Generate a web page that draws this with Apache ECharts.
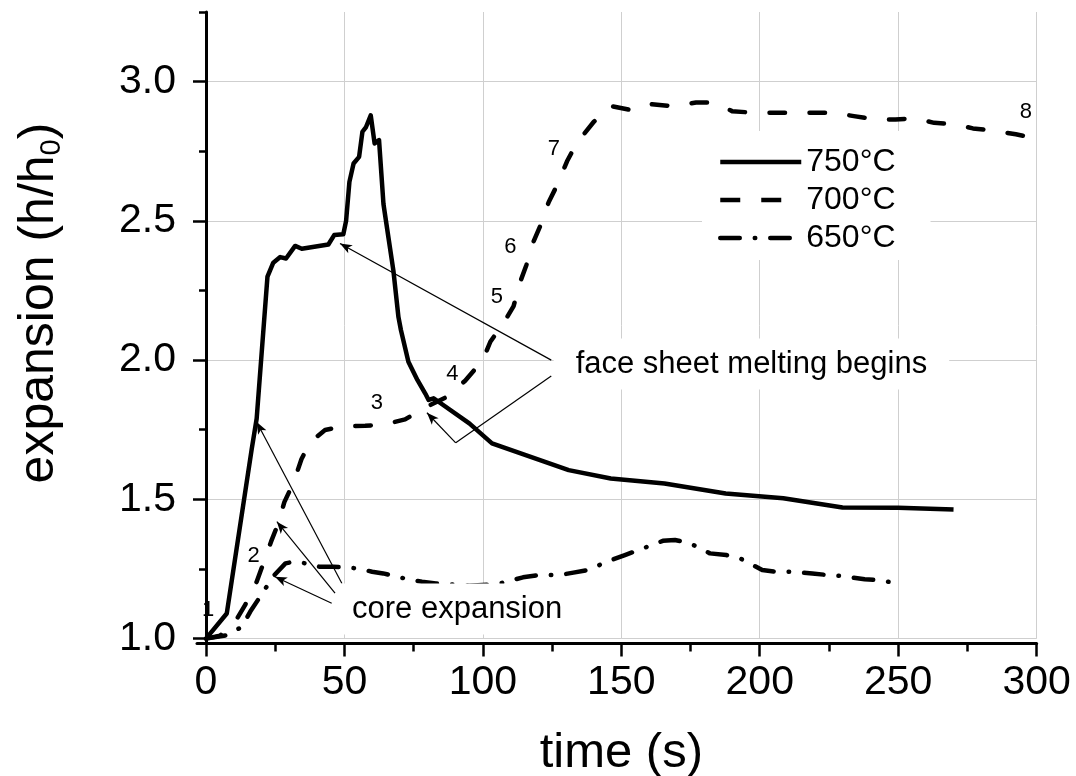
<!DOCTYPE html>
<html>
<head>
<meta charset="utf-8">
<script src="https://cdn.jsdelivr.net/npm/echarts@6/dist/echarts.min.js"></script>
<style>
  html, body { margin: 0; padding: 0; background: #fff; }
  #chart { width: 1076px; height: 776px; }
</style>
</head>
<body>
<div id="chart"></div>
<script>
// expansion h/h0 against time (s)
const time750 = [0, 7.5, 16.5, 18.3, 22.2, 24.3, 26.8, 28.9, 32.2, 34.6, 44.2, 46.3, 49.6, 50.6, 51.8, 53.3, 55.3, 56.5, 57.8, 59.5, 60.9, 62.5, 64.1, 65.9, 67.7, 69.5, 70.4, 73.1, 76.4, 79.2, 80.4, 82.2, 95.1, 103.3, 131, 146.2, 165.6, 187.7, 208.5, 229.9, 250, 270];
const exp750 = [1.0, 1.09, 1.68, 1.79, 2.30, 2.35, 2.37, 2.365, 2.41, 2.40, 2.415, 2.449, 2.452, 2.50, 2.64, 2.706, 2.73, 2.82, 2.837, 2.879, 2.778, 2.79, 2.56, 2.44, 2.32, 2.155, 2.108, 1.994, 1.928, 1.88, 1.857, 1.863, 1.773, 1.701, 1.605, 1.575, 1.557, 1.521, 1.504, 1.471, 1.47, 1.464];

const time700 = [0, 5, 10.5, 14.1, 18.3, 20.7, 23.5, 26.1, 28.3, 31.6, 34.5, 37.6, 43, 49.6, 57.5, 64.4, 71.9, 78.6, 87, 93.6, 100, 102.7, 107.8, 111.1, 113.5, 115.7, 118.1, 121, 123.8, 127, 130.4, 133.8, 140, 146.3, 153.9, 161.1, 168.4, 177, 183.4, 190, 198, 205, 217, 227, 234, 242, 249, 256, 263, 271, 277, 285, 292.5, 300];
const exp700 = [1.0, 1.01, 1.06, 1.12, 1.204, 1.27, 1.348, 1.414, 1.49, 1.56, 1.645, 1.705, 1.749, 1.763, 1.764, 1.769, 1.787, 1.827, 1.868, 1.926, 2.0, 2.066, 2.138, 2.194, 2.281, 2.341, 2.421, 2.488, 2.568, 2.632, 2.714, 2.778, 2.855, 2.912, 2.897, 2.919, 2.912, 2.925, 2.925, 2.894, 2.888, 2.888, 2.888, 2.888, 2.876, 2.864, 2.864, 2.868, 2.852, 2.846, 2.832, 2.823, 2.811, 2.796];

const time650 = [0, 8, 13, 16, 20.7, 24.4, 28.7, 32, 36, 41, 46, 55, 60, 64, 73, 78, 83, 95, 105, 114.5, 120, 127.6, 132.7, 137.7, 146.4, 151.3, 156.3, 165, 169.4, 174.8, 182, 187.9, 192.9, 200.9, 206, 211, 219, 224.6, 229.2, 237.9, 242.6, 249];
const exp650 = [1.0, 1.013, 1.043, 1.097, 1.168, 1.225, 1.27, 1.277, 1.27, 1.258, 1.258, 1.252, 1.24, 1.234, 1.213, 1.204, 1.198, 1.19, 1.195, 1.22, 1.228, 1.228, 1.237, 1.246, 1.282, 1.3, 1.318, 1.351, 1.354, 1.342, 1.306, 1.3, 1.288, 1.246, 1.24, 1.24, 1.234, 1.228, 1.225, 1.213, 1.21, 1.2];

const seriesNames = ['750°C', '700°C', '650°C'];

// numbered stages along the 700°C curve (time, expansion)
const stageNames = ['1', '2', '3', '4', '5', '6', '7', '8'];
const stageTime = [0.8, 17.2, 61.7, 89.0, 105.1, 109.9, 125.6, 296.1];
const stageExpansion = [1.103, 1.297, 1.845, 1.952, 2.227, 2.407, 2.76, 2.89];

// callouts: text, centre (time, expansion)
const noteTexts = ['face sheet melting begins', 'core expansion'];
const noteTime = [197.0, 90.7];
const noteExpansion = [1.986, 1.106];

// arrows [from, to] in (time, expansion); last flag = draw head
const arrowLines = [
  [[124.7, 2.0], [48.4, 2.419], true],
  [[124.7, 1.943], [90.2, 1.703], false],
  [[90.2, 1.703], [79.8, 1.811], true],
  [[49.1, 1.198], [18.3, 1.778], true],
  [[46.6, 1.163], [25.6, 1.42], true],
  [[45.4, 1.127], [24.9, 1.222], true]
];

const FONT = 'Liberation Sans, Arial, sans-serif';
const zip = (xs, ys) => xs.map((x, i) => [x, ys[i]]);

const chart = echarts.init(document.getElementById('chart'));

const gridLineColor = '#cfcfcf';
const tickStyle = { color: '#000', width: 2.5 };

const option = {
  animation: false,
  backgroundColor: '#fff',
  grid: [
    // plot area
    { left: 206, right: 39.4, top: 12, bottom: 137.4, outerBoundsMode: 'none', containLabel: false },
    // axis frame, a little outside the data range
    { left: 197, right: 39.4, top: 12, bottom: 133, outerBoundsMode: 'none', containLabel: false },
    // labelled y ticks 1.0 .. 3.0
    { left: 206, right: 39.4, top: 81.7, bottom: 137.4, outerBoundsMode: 'none', containLabel: false }
  ],
  xAxis: [
    {
      gridIndex: 0, type: 'value', min: 0, max: 300, interval: 50, offset: 5,
      axisLine: { show: false },
      axisTick: { show: true, length: 13, lineStyle: tickStyle },
      minorTick: { show: true, splitNumber: 2, length: 8, lineStyle: tickStyle },
      axisLabel: { fontSize: 41, color: '#000', fontFamily: FONT, margin: 19 },
      splitLine: { show: true, lineStyle: { color: gridLineColor, width: 1 } },
      name: 'time (s)', nameLocation: 'middle', nameGap: 85,
      nameTextStyle: { fontSize: 49, color: '#000', fontFamily: FONT }
    },
    {
      gridIndex: 1, type: 'value', min: -3.25, max: 300,
      axisLine: { show: true, lineStyle: { color: '#000', width: 3 } },
      axisTick: { show: false }, axisLabel: { show: false }, splitLine: { show: false }
    },
    {
      gridIndex: 2, type: 'value', min: 0, max: 300, show: false
    }
  ],
  yAxis: [
    {
      gridIndex: 0, type: 'value', min: 1, max: 3.25, interval: 0.25, offset: 9,
      axisLine: { show: false },
      axisTick: { show: true, length: 7, lineStyle: tickStyle },
      axisLabel: { show: false },
      splitLine: { show: true, lineStyle: { color: [gridLineColor, 'rgba(0,0,0,0)'], width: 1 } }
    },
    {
      gridIndex: 1, type: 'value', min: 0.984, max: 3.25,
      axisLine: { show: true, lineStyle: { color: '#000', width: 3 } },
      axisTick: { show: false }, axisLabel: { show: false }, splitLine: { show: false },
      name: '{t|expansion (h/h}{s|0}{t|)}', nameLocation: 'middle', nameGap: 131,
      nameTextStyle: {
        color: '#000', fontFamily: FONT, fontSize: 50, padding: [0, 0, 0, 49],
        rich: {
          t: { fontSize: 50, fontFamily: FONT, color: '#000' },
          s: { fontSize: 29, fontFamily: FONT, color: '#000', padding: [24, 0, 0, 0] }
        }
      }
    },
    {
      gridIndex: 2, type: 'value', min: 1, max: 3, interval: 0.5, offset: 9,
      axisLine: { show: false },
      axisTick: { show: true, length: 13, lineStyle: tickStyle },
      axisLabel: { fontSize: 41, color: '#000', fontFamily: FONT, margin: 21, formatter: v => v.toFixed(1) },
      splitLine: { show: false }
    }
  ],
  legend: {
    data: [
      { name: seriesNames[0] },
      { name: seriesNames[1], lineStyle: { type: [20, 21], cap: 'butt' } },
      { name: seriesNames[2] }
    ],
    orient: 'vertical',
    left: 702, top: 131,
    backgroundColor: '#fff',
    padding: [15, 35, 6, 16],
    itemWidth: 81, itemHeight: 14, itemGap: 6,
    lineStyle: { width: 4.5 },
    itemStyle: { opacity: 0 },
    textStyle: { fontSize: 32, color: '#000', fontFamily: FONT },
    z: 10
  },
  series: [
    {
      name: seriesNames[0], type: 'line', xAxisIndex: 0, yAxisIndex: 0,
      data: zip(time750, exp750), symbol: 'none',
      lineStyle: { color: '#000', width: 4.5, type: 'solid', join: 'round' },
      itemStyle: { color: '#000' },
      markLine: {
        silent: true, animation: false,
        symbolSize: [7, 12],
        lineStyle: { color: '#000', width: 1.2, type: 'solid' },
        label: { show: false },
        emphasis: { disabled: true },
        data: arrowLines.map(([a, b, head]) => [
          { coord: a, symbol: 'none' },
          { coord: b, symbol: head ? 'arrow' : 'none' }
        ])
      },
      markPoint: {
        silent: true, animation: false,
        symbol: 'circle', symbolSize: 0,
        data: stageNames.map((s, i) => ({
          coord: [stageTime[i], stageExpansion[i]],
          label: { show: true, position: 'inside', formatter: s, fontSize: 22, color: '#000', fontFamily: FONT }
        })).concat(noteTexts.map((t, i) => ({
          coord: [noteTime[i], noteExpansion[i]],
          label: {
            show: true, position: 'inside', formatter: t, fontSize: 31, color: '#000', fontFamily: FONT,
            backgroundColor: '#fff', padding: i === 0 ? [10, 22, 10, 22] : [10, 12, 10, 12]
          }
        })))
      }
    },
    {
      name: seriesNames[1], type: 'line', xAxisIndex: 0, yAxisIndex: 0,
      data: zip(time700, exp700), symbol: 'none',
      lineStyle: { color: '#000', width: 4.5, type: [15.5, 24.5], cap: 'round', join: 'round' },
      itemStyle: { color: '#000' }
    },
    {
      name: seriesNames[2], type: 'line', xAxisIndex: 0, yAxisIndex: 0,
      data: zip(time650, exp650), symbol: 'none',
      lineStyle: { color: '#000', width: 4.5, type: [19.5, 15, 0.5, 15], cap: 'round', join: 'round' },
      itemStyle: { color: '#000' }
    }
  ]
};

chart.setOption(option);
</script>
</body>
</html>
